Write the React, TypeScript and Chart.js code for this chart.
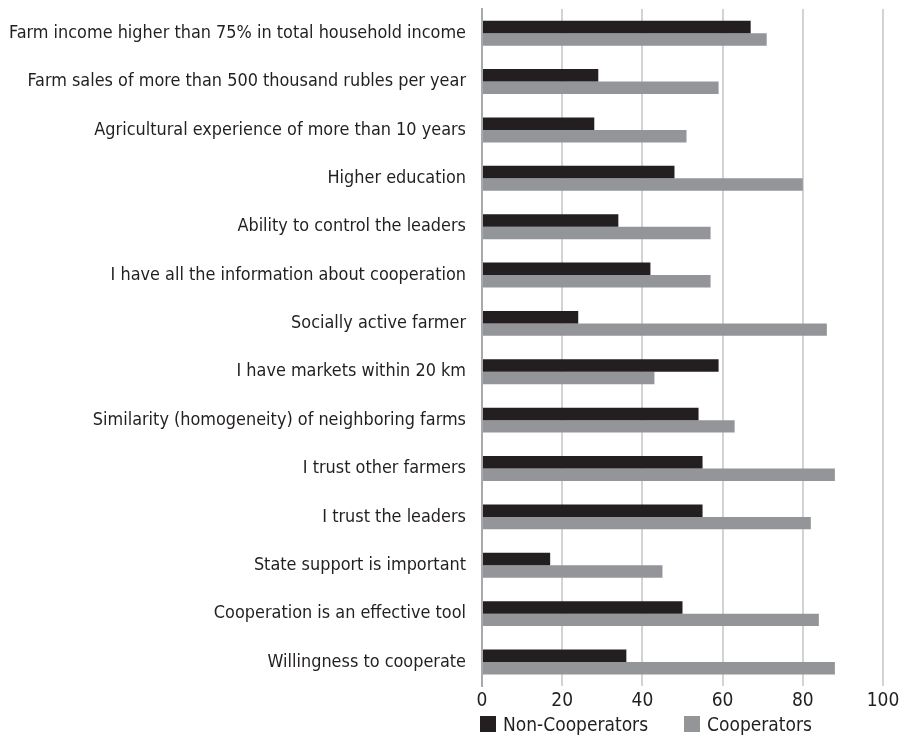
import React, { useEffect, useRef } from "react";
import { Chart, registerables } from "chart.js";

Chart.register(...registerables);

const categories = [
  "Farm income higher than 75% in total household income",
  "Farm sales of more than 500 thousand rubles per year",
  "Agricultural experience of more than 10 years",
  "Higher education",
  "Ability to control the leaders",
  "I have all the information about cooperation",
  "Socially active farmer",
  "I have markets within 20 km",
  "Similarity (homogeneity) of neighboring farms",
  "I trust other farmers",
  "I trust the leaders",
  "State support is important",
  "Cooperation is an effective tool",
  "Willingness to cooperate",
];

const seriesNames = ["Non-Cooperators", "Cooperators"];
const seriesColors = ["#231f20", "#939598"];
const nonCooperators = [67, 29, 28, 48, 34, 42, 24, 59, 54, 55, 55, 17, 50, 36];
const cooperators = [71, 59, 51, 80, 57, 57, 86, 43, 63, 88, 82, 45, 84, 88];

const xTicks = [0, 20, 40, 60, 80, 100];

const FONT = "'Liberation Sans Narrow', 'DejaVu Sans Condensed', 'Roboto', sans-serif";

export default function App() {
  const ref = useRef<HTMLCanvasElement | null>(null);
  const legendRef = useRef<HTMLDivElement | null>(null);
  useEffect(() => {
    if (!ref.current) return;
    const chart = new Chart(ref.current, {
      type: "bar",
      data: {
        labels: categories,
        datasets: [
          {
            label: seriesNames[0],
            data: nonCooperators,
            backgroundColor: seriesColors[0],
            categoryPercentage: 0.515,
            barPercentage: 1,
          },
          {
            label: seriesNames[1],
            data: cooperators,
            backgroundColor: seriesColors[1],
            categoryPercentage: 0.515,
            barPercentage: 1,
          },
        ],
      },
      options: {
        indexAxis: "y",
        animation: false,
        responsive: true,
        maintainAspectRatio: false,
        layout: { padding: { top: 1, right: 0, left: 0, bottom: 20 } },
        scales: {
          x: {
            min: 0,
            max: 100,
            afterBuildTicks(axis: any) {
              axis.ticks = xTicks.map((v) => ({ value: v }));
            },
            afterFit(axis: any) {
              axis.paddingRight = 16;
            },
            grid: { color: "#d1d3d4", lineWidth: 2, drawTicks: false },
            border: { display: false },
            ticks: {
              color: "#231f20",
              padding: 3,
              font: { family: FONT, size: 19 },
            },
          },
          y: {
            afterFit(axis: any) {
              axis.width = 474;
              axis.paddingTop = 0;
              axis.paddingBottom = 0;
            },
            grid: {
              display: true,
              drawOnChartArea: false,
              drawTicks: true,
              tickLength: 13,
              tickColor: "rgba(0,0,0,0)",
            },
            border: { display: true, color: "#a7a9ac", width: 2 },
            ticks: {
              color: "#231f20",
              padding: 3,
              font: { family: FONT, size: 17.9 },
            },
          },
        },
        plugins: {
          legend: { display: false },
          tooltip: { enabled: false },
        },
      },
    } as any);
    if (legendRef.current) {
      legendRef.current.style.left = chart.chartArea.left - 2 + "px";
    }
    return () => chart.destroy();
  }, []);
  return (
    <div style={{ width: 891, height: 727, position: "relative" }}>
      <canvas ref={ref} />
      <div
        ref={legendRef}
        style={{
          position: "absolute",
          left: 472,
          top: 705,
          height: 22,
          display: "flex",
          alignItems: "center",
          fontFamily: FONT,
          fontSize: 19,
          color: "#231f20",
          whiteSpace: "nowrap",
        }}
      >
        {seriesNames.map((name, i) => (
          <div key={name} style={{ display: "flex", alignItems: "center", marginRight: i === 0 ? 36 : 0 }}>
            <span style={{ width: 16, height: 16, background: seriesColors[i], display: "inline-block", marginRight: 7 }} />
            <span>{name}</span>
          </div>
        ))}
      </div>
    </div>
  );
}
